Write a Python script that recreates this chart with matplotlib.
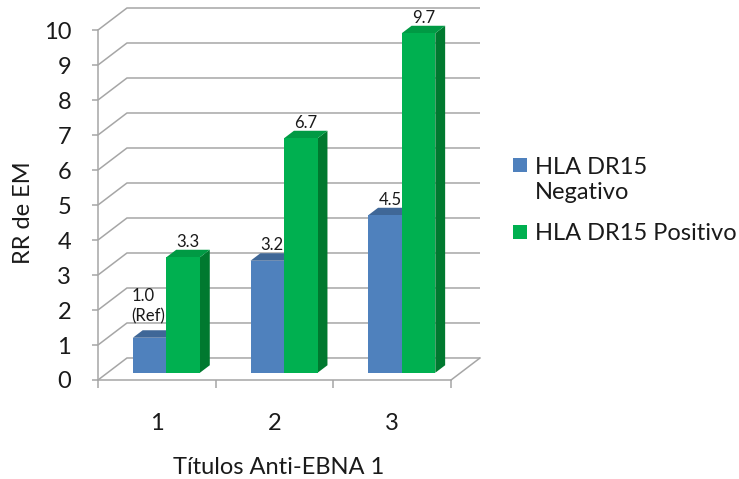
import matplotlib
matplotlib.use('Agg')
import matplotlib.pyplot as plt
from matplotlib.patches import Polygon, Rectangle

plt.rcParams['font.family'] = ['Lato', 'DejaVu Sans']

# data
categories = ['1', '2', '3']
series_names = ['HLA DR15\nNegativo', 'HLA DR15 Positivo']
negativo = [1.0, 3.2, 4.5]
positivo = [3.3, 6.7, 9.7]
value_labels = [['1.0\n(Ref)', '3.2', '4.5'], ['3.3', '6.7', '9.7']]
yticks = list(range(0, 11))

# oblique projection of the depth axis (data units), Excel-like 3D column
DX, DY = 0.246, 0.629
D0, D1 = 0.33, 0.67      # front / back of the bars as fraction of depth
BAR_W = 0.285
GRID = '#a6a6a6'
TXT = '#1a1a1a'
FS = 17
# front, top, side
colors = [('#4F81BD', '#3F6797', '#3A5E8A'),
          ('#00B050', '#009A44', '#00792F')]

fig = plt.figure(figsize=(7.39, 4.79), dpi=100)
ax = fig.add_axes([98/739, 99/479, 382/739, 372/479])
ax.set_xlim(0.5, 0.5 + len(categories) + DX)
ax.set_ylim(0, 10 + DY)


def proj(x, v, d):
    return (x + DX*d, v + DY*d)


# walls: gridlines on left wall and back wall
x0, x1 = 0.5, 0.5 + len(categories)
for v in yticks:
    ax.plot([x0, x0 + DX, x1 + DX], [v, v + DY, v + DY], color=GRID, lw=1.1,
            zorder=1, clip_on=False, solid_capstyle='butt')
ax.plot([x1, x1 + DX], [0, DY], color=GRID, lw=1.1, zorder=1, clip_on=False)

# bars
for i in range(len(categories)):
    for s, vals in enumerate([negativo, positivo]):
        v = vals[i]
        left = (i + 1) - BAR_W + s*BAR_W
        right = left + BAR_W
        front = [proj(left, 0, D0), proj(right, 0, D0), proj(right, v, D0), proj(left, v, D0)]
        top = [proj(left, v, D0), proj(right, v, D0), proj(right, v, D1), proj(left, v, D1)]
        side = [proj(right, 0, D0), proj(right, 0, D1), proj(right, v, D1), proj(right, v, D0)]
        fc, tc, sc = colors[s]
        ax.add_patch(Polygon(side, closed=True, fc=sc, ec='none', zorder=3))
        ax.add_patch(Polygon(top, closed=True, fc=tc, ec='none', zorder=3))
        ax.add_patch(Polygon(front, closed=True, fc=fc, ec='none', zorder=3))

# value labels
for s, vals in enumerate([negativo, positivo]):
    for i, v in enumerate(vals):
        left = (i + 1) - BAR_W + s*BAR_W
        cx, cy = proj(left + BAR_W/2, v, (D0 + D1)/2)
        cy = v + DY*D1
        lab = value_labels[s][i]
        off = (-4.5, 4.5) if '\n' in lab else (0, 0)
        ax.annotate(lab, (cx, cy), xytext=off, textcoords='offset points',
                    ha='center', va='bottom', fontsize=12, color=TXT,
                    multialignment='left', linespacing=1.3, zorder=5)

# axes
for sp in ['top', 'right']:
    ax.spines[sp].set_visible(False)
ax.spines['left'].set_bounds(0, 10)
ax.spines['bottom'].set_bounds(x0, x1)
for sp in ['left', 'bottom']:
    ax.spines[sp].set_color(GRID)
    ax.spines[sp].set_linewidth(1.1)
    ax.spines[sp].set_zorder(2)

ax.set_yticks(yticks)
ax.tick_params(axis='y', direction='out', length=4.3, width=1.1, color=GRID,
               pad=15, labelsize=FS, labelcolor=TXT)
ax.set_xticks([x0 + k for k in range(len(categories) + 1)])
ax.set_xticklabels([])
ax.set_xticks([k + 1 for k in range(len(categories))], minor=True)
ax.set_xticklabels(categories, minor=True)
ax.tick_params(axis='x', which='major', direction='out', length=5.8, width=1.1, color=GRID)
ax.tick_params(axis='x', which='minor', length=0, pad=24, labelsize=FS, labelcolor=TXT)

fig.text(279/739, 1 - 467/479, 'Títulos Anti-EBNA 1', ha='center', va='center',
         fontsize=FS, color=TXT)
fig.text(24/739, 1 - 213/479, 'RR de EM', ha='center', va='center', rotation=90,
         fontsize=FS, color=TXT)

# legend
leg_y = [180, 234]
for s, name in enumerate(series_names):
    yc = leg_y[s]
    sq_y = 165 if s == 0 else 232
    fig.patches.append(Rectangle((513/739, 1 - (sq_y + 7)/479), 14/739, 14/479,
                                 transform=fig.transFigure, fc=colors[s][0], ec='none'))
    fig.text(535/739, 1 - yc/479, name, ha='left', va='center', fontsize=FS,
             linespacing=1.25, color=TXT)

fig.savefig('out.png', dpi=100)
